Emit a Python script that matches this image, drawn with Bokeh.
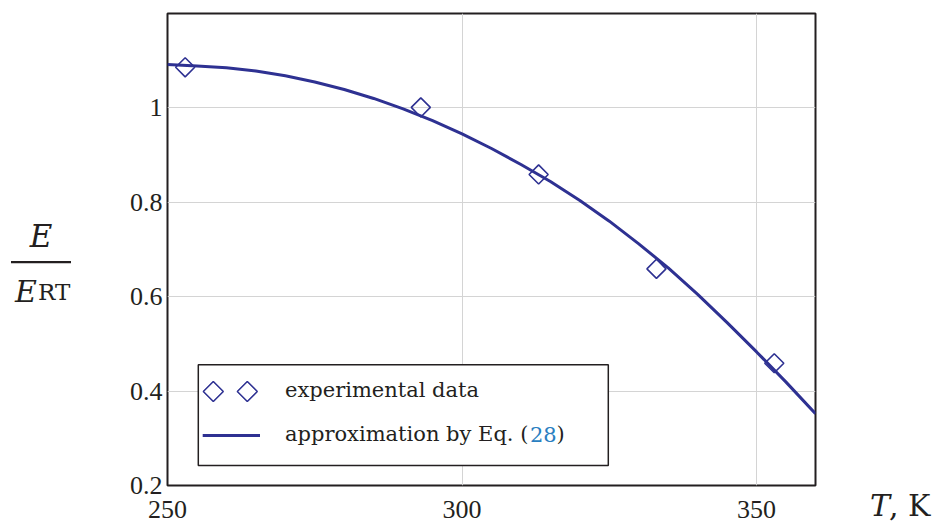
from bokeh.plotting import figure
from bokeh.models import Range1d, FixedTicker, Label, BoxAnnotation, PolyAnnotation
from bokeh.embed import file_html
from bokeh.resources import INLINE

# ---- data ----
T_exp = [253, 293, 313, 333, 353]
E_exp = [1.086, 1.001, 0.859, 0.659, 0.459]

T_fit = [250, 255, 260, 265, 270, 275, 280, 285, 290, 295, 300, 305,
         310, 315, 320, 325, 330, 335, 340, 345, 350, 355, 360]
E_fit = [1.092, 1.089, 1.085, 1.078, 1.068, 1.055, 1.039, 1.020, 0.998,
         0.973, 0.945, 0.914, 0.880, 0.844, 0.804, 0.760, 0.712, 0.661,
         0.605, 0.545, 0.483, 0.419, 0.352]

x_ticks = [250, 300, 350]
y_ticks = [0.2, 0.4, 0.6, 0.8, 1.0]
y_tick_labels = ["0.2", "0.4", "0.6", "0.8", "1"]

legend_labels = ["experimental data", "approximation by Eq. (", "28", ")"]

# ---- style ----
BLUE = "#2e3192"
LINK = "#2a7fc1"
INK = "#231f20"
GRID = "#d4d4d4"
TICK_FONT = "Liberation Serif"
TEXT_FONT = "DejaVu Serif"

# pixel -> data helpers for annotation placement (layout only)
X0, PXX = 167.5, 648 / 110.0
Y0, PXY = 485.0, 472 / 1.0
def dx(px):
    return 250 + (px - X0) / PXX
def dy(py):
    return 0.2 + (Y0 - py) / PXY
def by(py, fs):
    # baseline placement correction (Bokeh anchors text a bit lower)
    return dy(py - 0.4 * fs)

p = figure(frame_width=648, frame_height=472,
           x_range=Range1d(250, 360), y_range=Range1d(0.2, 1.2),
           output_backend="svg", toolbar_location=None,
           min_border_left=167, min_border_right=122,
           min_border_top=13, min_border_bottom=40)

p.background_fill_color = "white"
p.border_fill_color = "white"
p.outline_line_color = INK
p.outline_line_width = 2

p.xaxis.ticker = FixedTicker(ticks=x_ticks)
p.yaxis.ticker = FixedTicker(ticks=y_ticks)
p.yaxis.major_label_overrides = dict(zip(y_ticks, y_tick_labels))
for ax in (p.xaxis, p.yaxis):
    ax.axis_line_color = None
    ax.major_tick_line_color = None
    ax.minor_tick_line_color = None
    ax.major_tick_out = 0
    ax.major_tick_in = 0
    ax.minor_tick_out = 0
    ax.minor_tick_in = 0
    ax.major_label_text_font = TICK_FONT
    ax.major_label_text_font_size = "26px"
    ax.major_label_text_color = INK
p.xaxis.major_label_standoff = 15
p.yaxis.major_label_standoff = 5

p.xgrid.ticker = FixedTicker(ticks=[300, 350])
p.ygrid.ticker = FixedTicker(ticks=[0.4, 0.6, 0.8, 1.0])
p.xgrid.grid_line_color = GRID
p.ygrid.grid_line_color = GRID
p.xgrid.grid_line_width = 1
p.ygrid.grid_line_width = 1

# data
p.scatter(T_exp, E_exp, marker="square", angle=0.785398, size=13.5,
          line_color=BLUE, line_width=1.6, fill_color=None)
p.line(T_fit, E_fit, line_color=BLUE, line_width=3)

# legend (drawn by hand)
p.add_layout(BoxAnnotation(left=dx(198.3), right=dx(608.3), top=dy(364.3), bottom=dy(465),
                           fill_color="white", fill_alpha=1.0,
                           line_color=INK, line_alpha=1.0, line_width=1.5, level="annotation"))
hd_x, hd_y = 10 / PXX, 10 / PXY
for cx in (213.3, 247.3):
    X, Y = dx(cx), dy(391)
    p.add_layout(PolyAnnotation(xs=[X, X + hd_x, X, X - hd_x], ys=[Y + hd_y, Y, Y - hd_y, Y],
                                fill_color=None, fill_alpha=0, line_color=BLUE, line_alpha=1.0,
                                line_width=1.6, level="annotation"))
p.add_layout(BoxAnnotation(left=dx(202.7), right=dx(260), top=dy(433.5), bottom=dy(436.5),
                           fill_color=BLUE, fill_alpha=1.0, line_color=None, level="annotation"))

LFS = 21
p.add_layout(Label(x=dx(285), y=by(397.7, LFS), text=legend_labels[0], text_font=TEXT_FONT,
                   text_font_size=f"{LFS}px", text_color=INK, text_baseline="alphabetic"))
p.add_layout(Label(x=dx(285), y=by(442.3, LFS), text=legend_labels[1], text_font=TEXT_FONT,
                   text_font_size=f"{LFS}px", text_color=INK, text_baseline="alphabetic"))
p.add_layout(Label(x=dx(530), y=by(442.3, LFS), text=legend_labels[2], text_font=TEXT_FONT,
                   text_font_size=f"{LFS}px", text_color=LINK, text_baseline="alphabetic"))
p.add_layout(Label(x=dx(556.5), y=by(442.3, LFS), text=legend_labels[3], text_font=TEXT_FONT,
                   text_font_size=f"{LFS}px", text_color=INK, text_baseline="alphabetic"))

# y-axis title as a fraction E / E_RT (side panels so it is not clipped to the frame)
p.add_layout(Label(x=dx(41), y=by(248.3, 31), text="E", text_font=TEXT_FONT,
                   text_font_style="italic", text_font_size="31px", text_color=INK,
                   text_align="center", text_baseline="alphabetic"), "left")
# fraction bar: background box of an empty label
p.add_layout(Label(x=dx(41), y=dy(261.7), text="\u200b", text_font=TEXT_FONT,
                   text_font_size="1px", text_color=INK, text_align="center",
                   text_baseline="middle", background_fill_color=INK,
                   padding=dict(left=30, right=30, top=1, bottom=0)), "left")
p.add_layout(Label(x=dx(15), y=by(303.3, 30), text="E", text_font=TEXT_FONT,
                   text_font_style="italic", text_font_size="30px", text_color=INK,
                   text_baseline="alphabetic"), "left")
p.add_layout(Label(x=dx(38), y=by(303.3, 30), text="RT", text_font=TEXT_FONT,
                   text_font_size="23px", text_color=INK, text_baseline="alphabetic"), "right")

# x-axis title T, K
p.add_layout(Label(x=dx(870), y=by(516.7, 30), text="T", text_font=TEXT_FONT,
                   text_font_style="italic", text_font_size="30px", text_color=INK,
                   text_baseline="alphabetic"), "right")
p.add_layout(Label(x=dx(889), y=by(516.7, 30), text=", K", text_font=TEXT_FONT,
                   text_font_size="30px", text_color=INK, text_baseline="alphabetic"), "right")

open("out.html", "w").write(file_html(p, INLINE))
